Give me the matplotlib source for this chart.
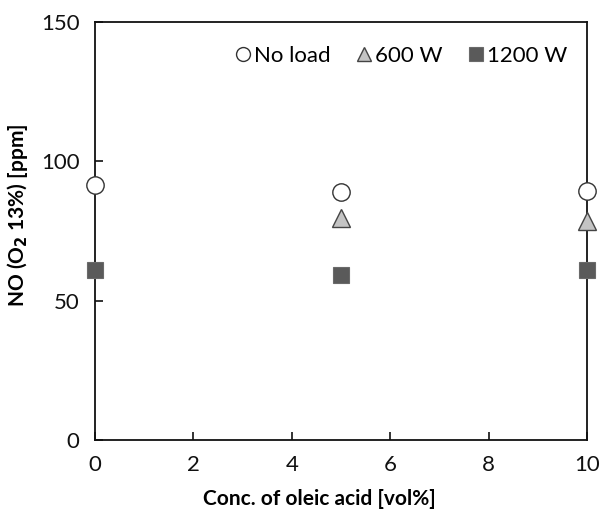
import matplotlib
matplotlib.use("Agg")
import matplotlib.pyplot as plt

plt.rcParams['font.family'] = ['Lato', 'DejaVu Sans']

conc = [0, 5, 10]
no_load = [91.5, 89.0, 89.3]
w600_x = [5, 10]
w600 = [79.7, 78.6]
w1200 = [61.0, 59.2, 61.0]

fig = plt.figure(figsize=(6.04, 5.19), dpi=100)
ax = fig.add_axes([0.157, 0.152, 0.815, 0.806])

ax.plot(conc, no_load, linestyle='none', marker='o', markersize=12.5,
        markerfacecolor='white', markeredgecolor='#333333', markeredgewidth=1.0,
        label='No load', clip_on=False, zorder=3)
ax.plot(w600_x, w600, linestyle='none', marker='^', markersize=13,
        markerfacecolor='#c4c4c4', markeredgecolor='#444444', markeredgewidth=1.0,
        label='600 W', clip_on=False, zorder=3)
ax.plot(conc, w1200, linestyle='none', marker='s', markersize=12,
        markerfacecolor='#5a5a5a', markeredgecolor='#6a6a6a', markeredgewidth=0.8,
        label='1200 W', clip_on=False, zorder=3)

ax.set_xlim(0, 10)
ax.set_ylim(0, 150)
ax.set_xticks([0, 2, 4, 6, 8, 10])
ax.set_yticks([0, 50, 100, 150])
ax.tick_params(direction='in', length=6, width=1.2, labelsize=16, pad=11,
               colors='#111111')
for s in ax.spines.values():
    s.set_linewidth(1.3)
    s.set_color('#111111')

ax.set_xlabel('Conc. of oleic acid [vol%]', fontsize=15, fontweight='bold', labelpad=10)
ax.set_ylabel('NO (O$_\\mathbf{2}$ 13%) [ppm]', fontsize=15, fontweight='bold', labelpad=8)
ax.xaxis.label.set_x(0.457)
ax.yaxis.label.set_y(0.538)

ax.legend(loc='upper right', ncol=3, frameon=False, fontsize=16,
          handletextpad=0.0, columnspacing=1.0, handlelength=1.0,
          markerscale=0.8, bbox_to_anchor=(1.0, 0.99))

fig.savefig('out.png', dpi=100)
